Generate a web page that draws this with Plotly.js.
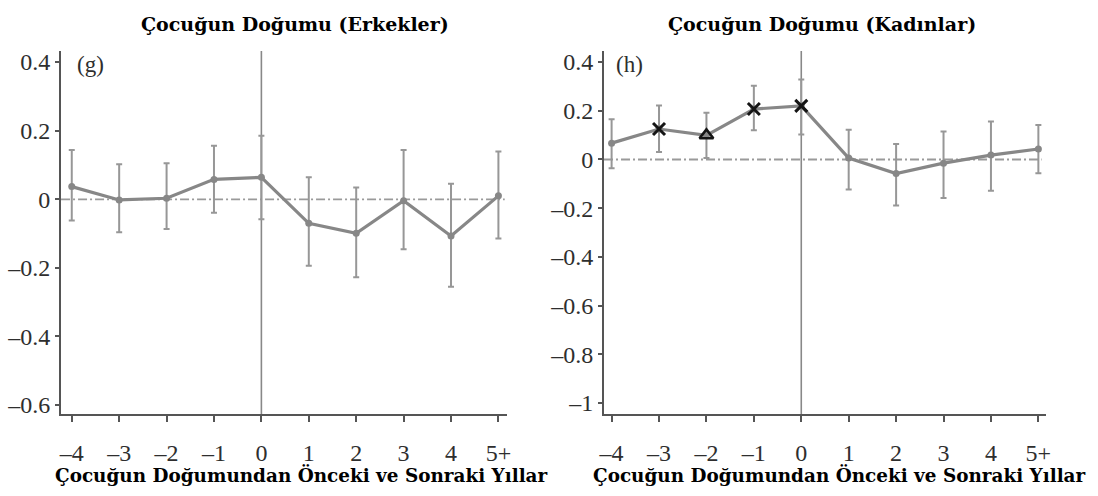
<!DOCTYPE html>
<html>
<head>
<meta charset="utf-8">
<script src="https://cdn.plot.ly/plotly-3.0.1.min.js"></script>
<style>html,body{margin:0;padding:0;background:#fff;}#chart{width:1098px;height:496px;}</style>
</head>
<body>
<div id="chart"></div>
<script>
// Years relative to child birth (numeric position) and their labels
const years = [-4, -3, -2, -1, 0, 1, 2, 3, 4, 5];
const yearLabels = ['–4', '–3', '–2', '–1', '0', '1', '2', '3', '4', '5+'];

// Panel (g): Men
const menEst   = [0.037, -0.002, 0.003, 0.058, 0.064, -0.070, -0.099, -0.004, -0.107, 0.010];
const menUpper = [0.144, 0.102, 0.105, 0.156, 0.185, 0.064, 0.034, 0.144, 0.045, 0.139];
const menLower = [-0.062, -0.096, -0.087, -0.039, -0.058, -0.194, -0.227, -0.146, -0.255, -0.114];

// Panel (h): Women
const womenEst   = [0.067, 0.125, 0.099, 0.207, 0.220, 0.006, -0.058, -0.015, 0.018, 0.043];
const womenUpper = [0.165, 0.222, 0.192, 0.303, 0.328, 0.122, 0.064, 0.115, 0.156, 0.142];
const womenLower = [-0.036, 0.031, 0.006, 0.120, 0.103, -0.123, -0.189, -0.158, -0.128, -0.057];
// significance flags for women's points ('x' = significant, 'tri' = marginal)
const womenSig = ['', 'x', 'tri', 'x', 'x', '', '', '', '', ''];

const menYTicks = [0.4, 0.2, 0, -0.2, -0.4, -0.6];
const menYLabels = ['0.4', '0.2', '0', '–0.2', '–0.4', '–0.6'];
const womenYTicks = [0.4, 0.2, 0, -0.2, -0.4, -0.6, -0.8, -1];
const womenYLabels = ['0.4', '0.2', '0', '–0.2', '–0.4', '–0.6', '–0.8', '–1'];

const titleMen = 'Çocuğun Doğumu (Erkekler)';
const titleWomen = 'Çocuğun Doğumu (Kadınlar)';
const xTitle = 'Çocuğun Doğumundan Önceki ve Sonraki Yıllar';

const lineGray = '#878787';
const errGray = '#979797';

function seriesTrace(est, up, lo, xa, ya) {
  return {
    x: years, y: est, xaxis: xa, yaxis: ya, type: 'scatter', mode: 'lines+markers',
    line: {color: lineGray, width: 3.2},
    marker: {color: lineGray, size: 7, symbol: 'circle'},
    error_y: {
      type: 'data', symmetric: false,
      array: up.map((u, i) => u - est[i]),
      arrayminus: lo.map((l, i) => est[i] - l),
      color: errGray, thickness: 2, width: 3
    },
    showlegend: false, hoverinfo: 'x+y'
  };
}

const sigX = [], sigY = [], triX = [], triY = [];
womenSig.forEach((s, i) => {
  if (s === 'x') { sigX.push(years[i]); sigY.push(womenEst[i]); }
  if (s === 'tri') { triX.push(years[i]); triY.push(womenEst[i]); }
});

const traces = [
  seriesTrace(menEst, menUpper, menLower, 'x', 'y'),
  seriesTrace(womenEst, womenUpper, womenLower, 'x2', 'y2'),
  {x: sigX, y: sigY, xaxis: 'x2', yaxis: 'y2', type: 'scatter', mode: 'markers',
   marker: {symbol: 'x-thin', size: 12, line: {color: '#151515', width: 3}, color: '#151515'},
   showlegend: false, hoverinfo: 'skip'},
  {x: triX, y: triY, xaxis: 'x2', yaxis: 'y2', type: 'scatter', mode: 'markers',
   marker: {symbol: 'triangle-up-open', size: 12, line: {color: '#151515', width: 2.5}, color: '#151515'},
   showlegend: false, hoverinfo: 'skip'}
];

const tickFont = {family: 'Liberation Serif, Times New Roman, serif', size: 24, color: '#2e2e2e'};
const titleFont = {family: 'DejaVu Serif, serif', size: 19, color: '#000', weight: 'bold'};
const xTitleFont = {family: 'DejaVu Serif, serif', size: 18.4, color: '#000', weight: 'bold'};

function xAxis(domain, range, anchor) {
  return {
    domain: domain, range: range, anchor: anchor,
    tickmode: 'array', tickvals: years, ticktext: yearLabels,
    showgrid: false, zeroline: false, showline: true, linecolor: '#555', linewidth: 2,
    ticks: 'outside', ticklen: 6, tickwidth: 2, tickcolor: '#555',
    ticklabelstandoff: 10,
    tickfont: tickFont, fixedrange: true
  };
}
function yAxis(range, anchor, vals, labels) {
  return {
    domain: [0.1653, 0.897], range: range, anchor: anchor,
    tickmode: 'array', tickvals: vals, ticktext: labels,
    showgrid: false, zeroline: false, showline: true, linecolor: '#555', linewidth: 2,
    ticks: 'outside', ticklen: 4, tickwidth: 2, tickcolor: '#555',
    tickfont: tickFont, fixedrange: true
  };
}

const layout = {
  width: 1098, height: 496,
  margin: {l: 0, r: 0, t: 0, b: 0},
  paper_bgcolor: '#fff', plot_bgcolor: '#fff',
  showlegend: false,
  xaxis: xAxis([0.0556, 0.4617], [-4.226, 5.18], 'y'),
  yaxis: yAxis([-0.626, 0.432], 'x', menYTicks, menYLabels),
  xaxis2: xAxis([0.5501, 0.9526], [-4.16, 5.16], 'y2'),
  yaxis2: yAxis([-1.045, 0.445], 'x2', womenYTicks, womenYLabels),
  shapes: [
    {type: 'line', xref: 'x domain', yref: 'y', x0: 0, x1: 0.995, y0: 0, y1: 0,
     line: {color: '#9a9a9a', width: 1.8, dash: '9px,3px,2px,3px'}, layer: 'below'},
    {type: 'line', xref: 'x', yref: 'y domain', x0: 0, x1: 0, y0: 0, y1: 1,
     line: {color: '#888', width: 1.6}, layer: 'below'},
    {type: 'line', xref: 'x2 domain', yref: 'y2', x0: 0, x1: 0.99, y0: 0, y1: 0,
     line: {color: '#9a9a9a', width: 1.8, dash: '9px,3px,2px,3px'}, layer: 'below'},
    {type: 'line', xref: 'x2', yref: 'y2 domain', x0: 0, x1: 0, y0: 0, y1: 1,
     line: {color: '#888', width: 1.6}, layer: 'below'}
  ],
  annotations: [
    {text: titleMen, xref: 'paper', yref: 'paper', x: 0.2687, y: 1 - 24 / 496, showarrow: false,
     font: titleFont, xanchor: 'center', yanchor: 'middle'},
    {text: titleWomen, xref: 'paper', yref: 'paper', x: 0.7486, y: 1 - 24 / 496, showarrow: false,
     font: titleFont, xanchor: 'center', yanchor: 'middle'},
    {text: xTitle, xref: 'paper', yref: 'paper', x: 0.275, y: 1 - 475 / 496, showarrow: false,
     font: xTitleFont, xanchor: 'center', yanchor: 'middle'},
    {text: xTitle, xref: 'paper', yref: 'paper', x: 0.765, y: 1 - 475 / 496, showarrow: false,
     font: xTitleFont, xanchor: 'center', yanchor: 'middle'},
    {text: '(g)', xref: 'x domain', yref: 'y domain', x: 0.031, y: 0.964, showarrow: false,
     font: {family: 'Liberation Serif, serif', size: 23, color: '#2e2e2e'}, xanchor: 'left', yanchor: 'middle'},
    {text: '(h)', xref: 'x2 domain', yref: 'y2 domain', x: 0.023, y: 0.964, showarrow: false,
     font: {family: 'Liberation Serif, serif', size: 23, color: '#2e2e2e'}, xanchor: 'left', yanchor: 'middle'}
  ]
};

Plotly.newPlot('chart', traces, layout, {displayModeBar: false, staticPlot: true});
</script>
</body>
</html>
